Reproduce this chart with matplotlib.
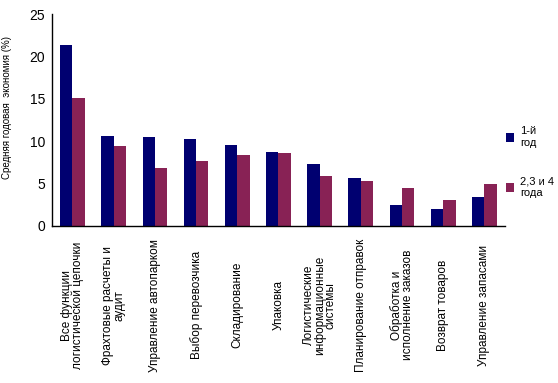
import matplotlib.pyplot as plt
import numpy as np

plt.rcParams['font.family'] = ['Liberation Sans', 'DejaVu Sans']

# categories and values
categories = [
    'Все функции\nлогистической цепочки',
    'Фрахтовые расчеты и\nаудит',
    'Управление автопарком',
    'Выбор перевозчика',
    'Складирование',
    'Упаковка',
    'Логистические\nинформационные\nсистемы',
    'Планирование отправок',
    'Обработка и\nисполнение заказов',
    'Возврат товаров',
    'Управление запасами',
]
year1 = [21.4, 10.65, 10.45, 10.3, 9.6, 8.7, 7.3, 5.6, 2.5, 2.05, 3.4]
years234 = [15.1, 9.4, 6.85, 7.65, 8.35, 8.6, 5.95, 5.25, 4.45, 3.05, 4.9]
series_names = ['1-й\nгод', '2,3 и 4\nгода']
yticks = [0, 5, 10, 15, 20, 25]

blue = '#000070'
red = '#882255'

fig = plt.figure(figsize=(5.58, 3.83), dpi=100)
ax = fig.add_axes([0.093, 0.410, 0.812, 0.5534])

x = np.arange(len(categories))
w = 0.3
ax.bar(x - w / 2, year1, width=w, color=blue, label=series_names[0])
ax.bar(x + w / 2, years234, width=w, color=red, label=series_names[1])

ax.set_xlim(-0.5, len(categories) - 0.5)
ax.set_ylim(0, 25)
ax.set_yticks(yticks)
ax.tick_params(axis='y', length=0, pad=5, labelsize=10)
ax.set_xticks(x)
ax.set_xticklabels(categories, rotation=90, ha='center', va='center',
                   fontsize=8.5, linespacing=0.85)
ax.tick_params(axis='x', length=0, pad=57)

for s in ['top', 'right']:
    ax.spines[s].set_visible(False)
ax.spines['left'].set_linewidth(1.0)
ax.spines['bottom'].set_linewidth(1.0)

ax.set_ylabel('Средняя годовая  экономия (%)', fontsize=7)
ax.yaxis.set_label_coords(-0.088, 0.557)

leg = ax.legend(loc='upper left', bbox_to_anchor=(1.0, 0.475), frameon=False,
                fontsize=8, handlelength=0.7, handleheight=0.9,
                handletextpad=0.55, labelspacing=2.6, borderaxespad=0,
                borderpad=0.1)

fig.savefig('out.png', dpi=100)
